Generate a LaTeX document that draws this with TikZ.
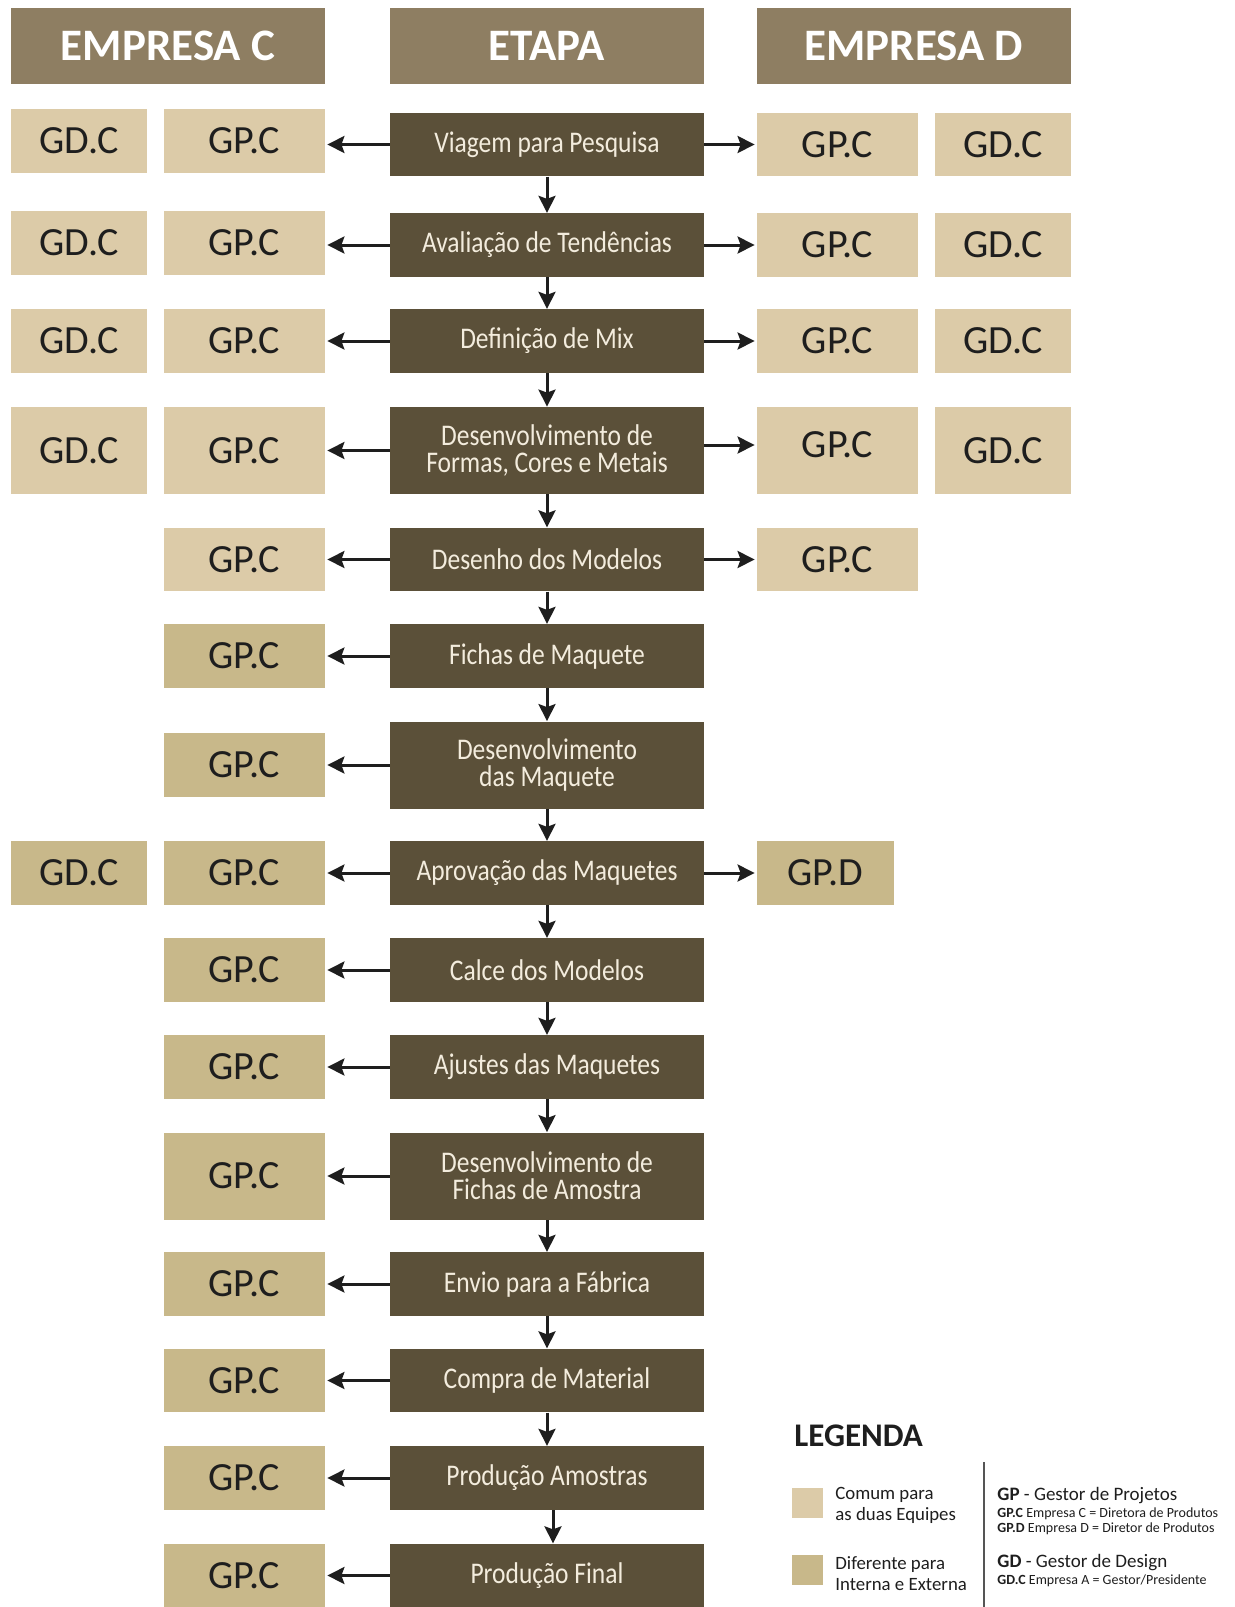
\documentclass[tikz,border=0pt]{standalone}
\usepackage{fontspec}
\setmainfont{Carlito}
\newfontfamily\condfont[FakeStretch=0.85]{Carlito}
\usetikzlibrary{arrows.meta}
\definecolor{hdr}{HTML}{8E7E62}
\definecolor{stage}{HTML}{5B5039}
\definecolor{comum}{HTML}{DCCBA8}
\definecolor{difer}{HTML}{C8B88A}
\definecolor{stagetxt}{HTML}{F3ECDD}
\definecolor{ink}{HTML}{1E1E1E}
\definecolor{sepline}{HTML}{555555}
\begin{document}
\begin{tikzpicture}[x=0.5pt,y=-0.5pt,
 hdrbox/.style={fill=hdr, text=white, font=\fontsize{22.5}{24}\selectfont\bfseries, minimum width=157pt, minimum height=38pt, inner sep=0pt},
 stagebox/.style={fill=stage, text=stagetxt, font=\condfont\fontsize{15}{13.6}\selectfont, align=center, minimum width=157pt, minimum height=31.75pt, inner sep=0pt},
 tall/.style={minimum height=43.5pt},
 gpbox/.style={text=ink, font=\fontsize{20}{22}\selectfont, minimum width=80.5pt, minimum height=31.75pt, inner sep=0pt},
 gdbox/.style={gpbox, minimum width=68pt},
 gpdbox/.style={gpbox, minimum width=68.5pt},
 com/.style={fill=comum}, dif/.style={fill=difer},
 arr/.style={draw=ink, line width=1.5pt, -{Stealth[length=8.5pt,width=8.5pt,inset=1.5pt]}},
 legtxt/.style={anchor=west, align=left, text=ink, inner sep=0pt}
]
\useasboundingbox (0,0) rectangle (1235,1607);
\fill[white] (0,0) rectangle (1235,1607);

% headers
\node[hdrbox] (hc) at (168,46) {EMPRESA C};
\node[hdrbox] (he) at (547,46) {ETAPA};
\node[hdrbox] (hd) at (914,46) {EMPRESA D};

% stages
\node[stagebox] (s1) at (547,144.5) {Viagem para Pesquisa};
\node[stagebox] (s2) at (547,245) {Avaliação de Tendências};
\node[stagebox] (s3) at (547,341) {Definição de Mix};
\node[stagebox,tall] (s4) at (547,450.5) {Desenvolvimento de\\Formas, Cores e Metais};
\node[stagebox] (s5) at (547,559.5) {Desenho dos Modelos};
\node[stagebox] (s6) at (547,656) {Fichas de Maquete};
\node[stagebox,tall] (s7) at (547,765) {Desenvolvimento\\das Maquete};
\node[stagebox] (s8) at (547,873) {Aprovação das Maquetes};
\node[stagebox] (s9) at (547,970) {Calce dos Modelos};
\node[stagebox] (s10) at (547,1067) {Ajustes das Maquetes};
\node[stagebox,tall] (s11) at (547,1176) {Desenvolvimento de\\Fichas de Amostra};
\node[stagebox] (s12) at (547,1284) {Envio para a Fábrica};
\node[stagebox] (s13) at (547,1380.5) {Compra de Material};
\node[stagebox] (s14) at (547,1478) {Produção Amostras};
\node[stagebox] (s15) at (547,1575.5) {Produção Final};

% left GP.C
\node[gpbox,com] (lp1) at (244.5,141) {GP.C};
\node[gpbox,com] (lp2) at (244.5,243) {GP.C};
\node[gpbox,com] (lp3) at (244.5,341) {GP.C};
\node[gpbox,com,tall] (lp4) at (244.5,450.5) {GP.C};
\node[gpbox,com] (lp5) at (244.5,559.5) {GP.C};
\node[gpbox,dif] (lp6) at (244.5,656) {GP.C};
\node[gpbox,dif] (lp7) at (244.5,765) {GP.C};
\node[gpbox,dif] (lp8) at (244.5,873) {GP.C};
\node[gpbox,dif] (lp9) at (244.5,970) {GP.C};
\node[gpbox,dif] (lp10) at (244.5,1067) {GP.C};
\node[gpbox,dif,tall] (lp11) at (244.5,1176) {GP.C};
\node[gpbox,dif] (lp12) at (244.5,1284) {GP.C};
\node[gpbox,dif] (lp13) at (244.5,1380.5) {GP.C};
\node[gpbox,dif] (lp14) at (244.5,1478) {GP.C};
\node[gpbox,dif] (lp15) at (244.5,1575.5) {GP.C};

% left GD.C
\node[gdbox,com] (lg1) at (79,141) {GD.C};
\node[gdbox,com] (lg2) at (79,243) {GD.C};
\node[gdbox,com] (lg3) at (79,341) {GD.C};
\node[gdbox,com,tall] (lg4) at (79,450.5) {GD.C};
\node[gdbox,dif] (lg8) at (79,873) {GD.C};

% right boxes
\node[gpbox,com] (rp1) at (837.5,144.5) {GP.C};
\node[gpbox,com] (rp2) at (837.5,245) {GP.C};
\node[gpbox,com] (rp3) at (837.5,341) {GP.C};
\node[gpbox,com,tall] (rp4) at (837.5,450.5) {\raisebox{5.5pt}{GP.C}};
\node[gpbox,com] (rp5) at (837.5,559.5) {GP.C};
\node[gdbox,com] (rg1) at (1003,144.5) {GD.C};
\node[gdbox,com] (rg2) at (1003,245) {GD.C};
\node[gdbox,com] (rg3) at (1003,341) {GD.C};
\node[gdbox,com,tall] (rg4) at (1003,450.5) {GD.C};
\node[gpdbox,dif] (rd8) at (825.5,873) {GP.D};

% down arrows
\foreach \a/\b in {s1/s2,s2/s3,s3/s4,s4/s5,s5/s6,s6/s7,s7/s8,s8/s9,s9/s10,s10/s11,s11/s12,s12/s13,s13/s14}
  \draw[arr] (\a.south) -- (\b.north);
\draw[arr] ([xshift=3pt]s14.south) -- ([xshift=3pt]s15.north);

% left arrows
\foreach \i in {1,...,15}
  \draw[arr, shorten >=1pt] (s\i.west) -- (s\i.west -| lp\i.east);

% right arrows
\foreach \i in {1,2,3,5}
  \draw[arr, shorten >=1pt] (s\i.east) -- (s\i.east -| rp\i.west);
\draw[arr, shorten >=1pt] ([yshift=2.75pt]s4.east) -- ([yshift=2.75pt]s4.east -| rp4.west);
\draw[arr, shorten >=1pt] (s8.east) -- (s8.east -| rd8.west);

% legend
\node[legtxt, font=\fontsize{16.5}{18}\selectfont\bfseries] (leg) at (794,1436) {LEGENDA};
\node[fill=comum, minimum width=15.5pt, minimum height=15pt, inner sep=0pt] (lq1) at (807.5,1503) {};
\node[fill=difer, minimum width=15.5pt, minimum height=15pt, inner sep=0pt] (lq2) at (807.5,1569.5) {};
\node[legtxt, font=\fontsize{9.4}{10.5}\selectfont] (lt1) at (835,1505.5) {Comum para\\as duas Equipes};
\node[legtxt, font=\fontsize{9.4}{10.5}\selectfont] (lt2) at (835,1573.5) {Diferente para\\Interna e Externa};
\coordinate (sepa) at (984,1462);
\coordinate (sepb) at (984,1607);
\draw[sepline, line width=1pt] (sepa) -- (sepb);
\node[legtxt, font=\fontsize{9.5}{11}\selectfont] (gp) at (997,1496) {\textbf{GP} - Gestor de Projetos};
\node[legtxt, font=\fontsize{7}{7.5}\selectfont] (gpc) at (997,1521.5) {\textbf{GP.C} Empresa C = Diretora de Produtos\\\textbf{GP.D} Empresa D = Diretor de Produtos};
\node[legtxt, font=\fontsize{9.5}{11}\selectfont] (gd) at (997,1563) {\textbf{GD} - Gestor de Design};
\node[legtxt, font=\fontsize{7}{7.5}\selectfont] (gdc) at (997,1581) {\textbf{GD.C} Empresa A = Gestor/Presidente};
\end{tikzpicture}
\end{document}
